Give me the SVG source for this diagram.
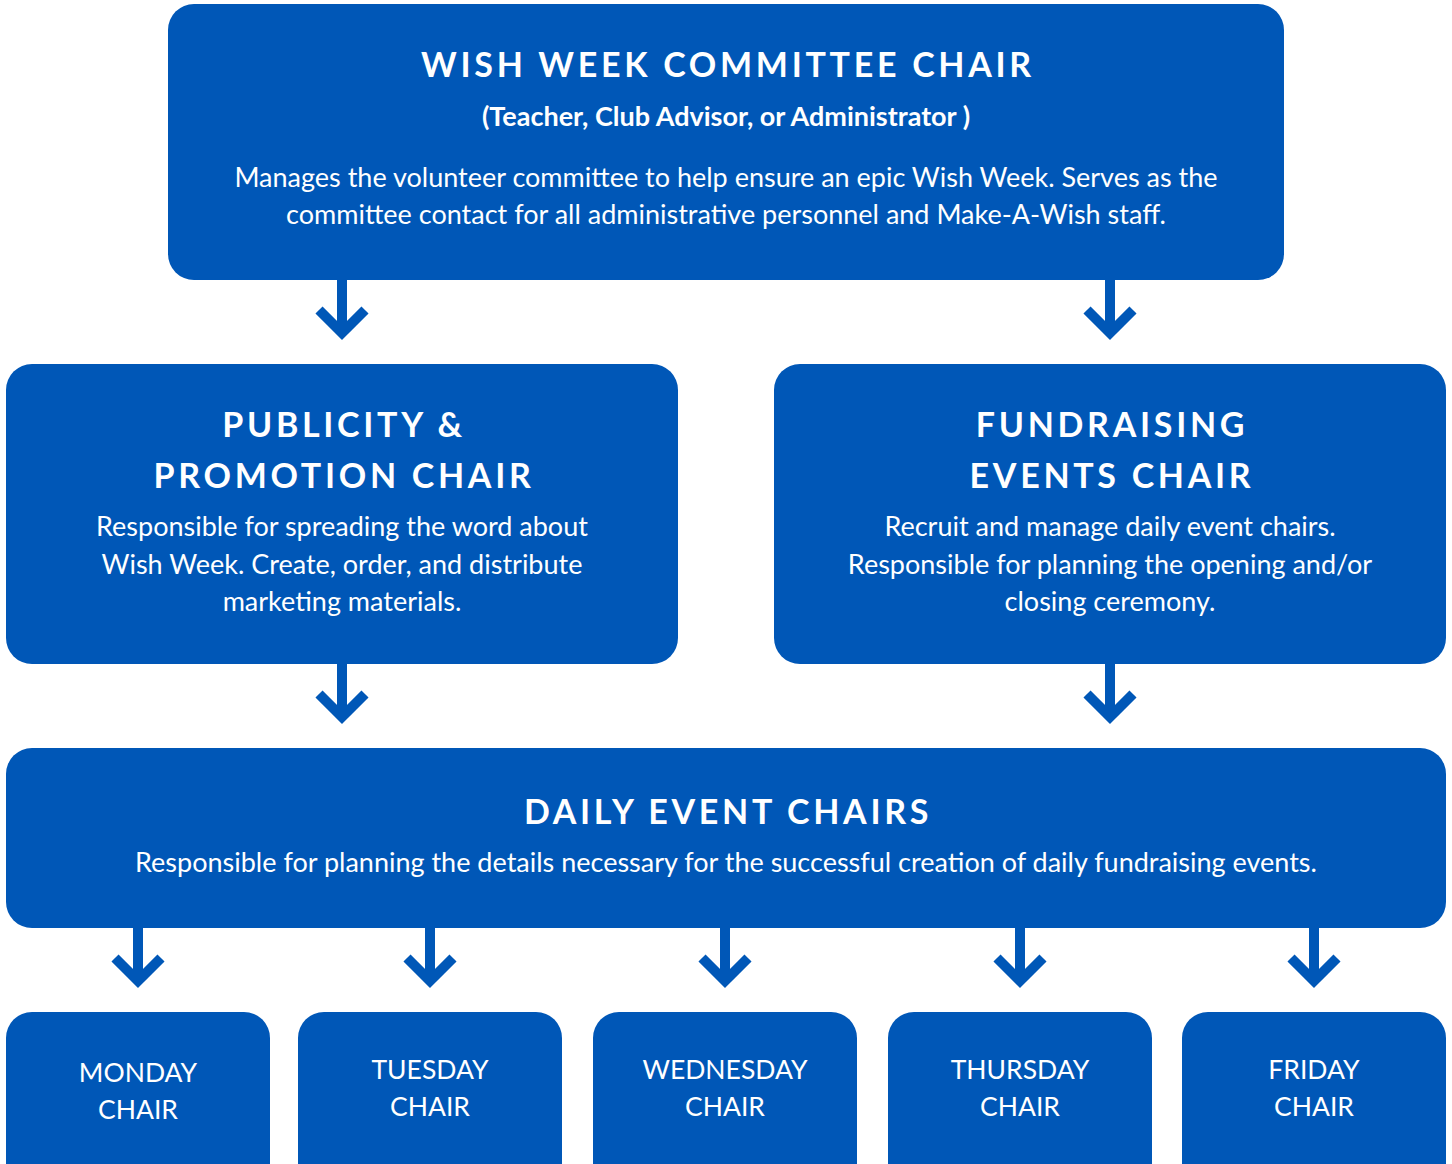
<svg xmlns="http://www.w3.org/2000/svg" width="1452" height="1164" viewBox="0 0 1452 1164">
  <defs>
    <style>
      .box { fill: #0057b7; }
      .title { font-family: Lato, "Open Sans", sans-serif; font-weight: 700; font-size: 34px; letter-spacing: 3.7px; fill: #ffffff; text-anchor: middle; }
      .sub { font-family: Lato, "Open Sans", sans-serif; font-weight: 700; font-size: 27px; fill: #ffffff; text-anchor: middle; }
      .body { font-family: Lato, "Open Sans", sans-serif; font-weight: 400; font-size: 27px; fill: #ffffff; text-anchor: middle; }
      .day { font-family: Lato, "Open Sans", sans-serif; font-weight: 400; font-size: 26.5px; fill: #ffffff; text-anchor: middle; }
      .shaft { stroke: #0057b7; stroke-width: 10; fill: none; }
      .head { stroke: #0057b7; stroke-width: 10; fill: none; stroke-linejoin: miter; stroke-linecap: butt; }
    </style>
    <!-- downward connector: shaft plus open chevron head, apex at (0,0) -->
    <g id="down-arrow">
      <line class="shaft" x1="0" y1="-60" x2="0" y2="-2"/>
      <polyline class="head" points="-23,-23 0,0 23,-23"/>
    </g>
  </defs>

  <rect width="1452" height="1164" fill="#ffffff"/>

  <g id="connectors">
    <use href="#down-arrow" x="342" y="333"/>
    <use href="#down-arrow" x="1110" y="333"/>
    <use href="#down-arrow" x="342" y="717"/>
    <use href="#down-arrow" x="1110" y="717"/>
    <use href="#down-arrow" x="138" y="981"/>
    <use href="#down-arrow" x="430" y="981"/>
    <use href="#down-arrow" x="725" y="981"/>
    <use href="#down-arrow" x="1020" y="981"/>
    <use href="#down-arrow" x="1314" y="981"/>
  </g>

  <g id="committee-chair">
    <rect class="box" x="168" y="4" width="1116" height="276" rx="26"/>
    <text class="title" x="728" y="77">WISH WEEK COMMITTEE CHAIR</text>
    <text class="sub" x="726" y="126">(Teacher, Club Advisor, or Administrator )</text>
    <text class="body" x="726" y="187">Manages the volunteer committee to help ensure an epic Wish Week. Serves as the</text>
    <text class="body" x="726" y="224">committee contact for all administrative personnel and Make-A-Wish staff.</text>
  </g>

  <g id="publicity-chair">
    <rect class="box" x="6" y="364" width="672" height="300" rx="26"/>
    <text class="title" x="344" y="437">PUBLICITY &amp;</text>
    <text class="title" x="344" y="488">PROMOTION CHAIR</text>
    <text class="body" x="342" y="536">Responsible for spreading the word about</text>
    <text class="body" x="342" y="574">Wish Week. Create, order, and distribute</text>
    <text class="body" x="342" y="611">marketing materials.</text>
  </g>

  <g id="fundraising-chair">
    <rect class="box" x="774" y="364" width="672" height="300" rx="26"/>
    <text class="title" x="1112" y="437">FUNDRAISING</text>
    <text class="title" x="1112" y="488">EVENTS CHAIR</text>
    <text class="body" x="1110" y="536">Recruit and manage daily event chairs.</text>
    <text class="body" x="1110" y="574">Responsible for planning the opening and/or</text>
    <text class="body" x="1110" y="611">closing ceremony.</text>
  </g>

  <g id="daily-chairs">
    <rect class="box" x="6" y="748" width="1440" height="180" rx="26"/>
    <text class="title" x="728" y="824">DAILY EVENT CHAIRS</text>
    <text class="body" x="726" y="872">Responsible for planning the details necessary for the successful creation of daily fundraising events.</text>
  </g>

  <g id="monday-chair">
    <rect class="box" x="6" y="1012" width="264" height="180" rx="26"/>
    <text class="day" x="138" y="1082">MONDAY</text>
    <text class="day" x="138" y="1119">CHAIR</text>
  </g>
  <g id="tuesday-chair">
    <rect class="box" x="298" y="1012" width="264" height="180" rx="26"/>
    <text class="day" x="430" y="1079">TUESDAY</text>
    <text class="day" x="430" y="1116">CHAIR</text>
  </g>
  <g id="wednesday-chair">
    <rect class="box" x="593" y="1012" width="264" height="180" rx="26"/>
    <text class="day" x="725" y="1079">WEDNESDAY</text>
    <text class="day" x="725" y="1116">CHAIR</text>
  </g>
  <g id="thursday-chair">
    <rect class="box" x="888" y="1012" width="264" height="180" rx="26"/>
    <text class="day" x="1020" y="1079">THURSDAY</text>
    <text class="day" x="1020" y="1116">CHAIR</text>
  </g>
  <g id="friday-chair">
    <rect class="box" x="1182" y="1012" width="264" height="180" rx="26"/>
    <text class="day" x="1314" y="1079">FRIDAY</text>
    <text class="day" x="1314" y="1116">CHAIR</text>
  </g>
</svg>
